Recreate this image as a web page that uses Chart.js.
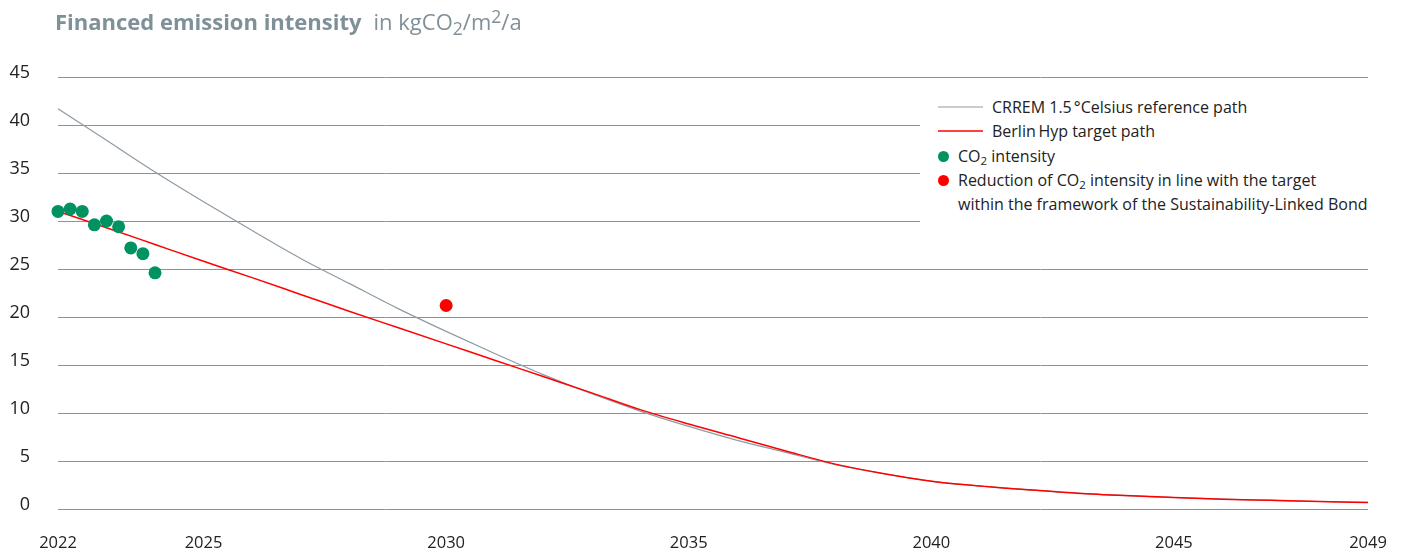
<!DOCTYPE html>
<html>
<head>
<meta charset="utf-8">
<script src="https://cdn.jsdelivr.net/npm/chart.js@4.4.1/dist/chart.umd.min.js"></script>
<style>
  html,body{margin:0;padding:0;background:#fff;}
  body{font-family:"Open Sans","Noto Sans",sans-serif;}
  #wrap{position:relative;width:1402px;height:550px;overflow:hidden;}
  #c{position:absolute;left:0;top:0;}
  #title{position:absolute;left:55px;top:7px;font-size:22px;line-height:28px;color:#7f9099;white-space:nowrap;}
  #title b{font-weight:700;margin-right:12px;}
  #title sub,#title sup{font-size:0.8em;}
  sub,sup{font-size:0.72em;line-height:0;}
  sub{vertical-align:-0.3em;}
  sup{vertical-align:0.4em;}
  #legend{position:absolute;left:920px;top:92px;width:482px;height:140px;background:#fff;}
  .lt{position:absolute;font-size:16px;font-weight:500;line-height:24px;color:#222;white-space:nowrap;}
  .ls{position:absolute;display:block;}
  .ld{position:absolute;border-radius:50%;}
</style>
</head>
<body>
<div id="wrap">
  <canvas id="c" width="1402" height="550"></canvas>
  <div id="title"></div>
  <div id="legend"></div>
</div>
<script>
// ---- data ----
const titleBold = 'Financed emission intensity';
const titleUnit = 'in kgCO<sub>2</sub>/m<sup>2</sup>/a';

const years = [2022,2023,2024,2025,2026,2027,2028,2029,2030,2031,2032,2033,2034,2035,
               2036,2037,2038,2039,2040,2041,2042,2043,2044,2045,2046,2047,2048,2049];
const crremPath = [41.7,38.4,35.1,32.0,29.0,26.1,23.5,20.9,18.5,16.2,14.0,12.0,10.2,8.6,
                   7.15,5.9,4.65,3.7,2.9,2.4,2.0,1.65,1.4,1.2,1.02,0.9,0.78,0.68];
const targetPath = [31.0,29.3,27.55,25.8,24.1,22.35,20.6,18.9,17.2,15.5,13.8,12.1,10.35,8.85,
                    7.45,6.05,4.7,3.7,2.9,2.4,2.0,1.65,1.4,1.2,1.02,0.9,0.78,0.68];
const co2Periods = [2022,2022.25,2022.5,2022.75,2023,2023.25,2023.5,2023.75,2024];
const co2Values  = [31.0,31.25,31.0,29.6,30.0,29.4,27.2,26.6,24.6];
const slbPeriods = [2030];
const slbValues  = [21.2];
const xTickValues = [2022,2025,2030,2035,2040,2045,2049];
const yMin = 0, yMax = 45, yStep = 5;

const legendLabels = [
  'CRREM 1.5\u202f°Celsius reference path',
  'Berlin\u2009Hyp target path',
  'CO<sub>2</sub> intensity',
  'Reduction of CO<sub>2</sub> intensity in line with the target<br>within the framework of the Sustainability-Linked Bond'
];

// ---- colours ----
const GREY = '#8c9ba5', RED = '#ff0000', GREEN = '#009260', SLB = '#ff0000', GRID = '#8794a0';

// ---- title ----
document.getElementById('title').innerHTML = '<b>' + titleBold + '</b>' + titleUnit;

// ---- legend ----
const lg = document.getElementById('legend');
const legendDefs = [
  {kind:'line', color:GREY, y:15},
  {kind:'line', color:RED,  y:39},
  {kind:'dot',  color:GREEN,y:64},
  {kind:'dot',  color:SLB,  y:88}
];
legendDefs.forEach((d,i)=>{
  if(d.kind==='line'){
    const ns='http://www.w3.org/2000/svg';
    const svg=document.createElementNS(ns,'svg');
    svg.setAttribute('class','ls'); svg.setAttribute('width','45'); svg.setAttribute('height','4');
    svg.style.left='18px'; svg.style.top=(d.y-2)+'px';
    const ln=document.createElementNS(ns,'line');
    ln.setAttribute('x1','0'); ln.setAttribute('x2','45'); ln.setAttribute('y1','2'); ln.setAttribute('y2','2');
    ln.setAttribute('stroke', d.color); ln.setAttribute('stroke-width', d.color===RED ? '1.5' : '1.2');
    svg.appendChild(ln); lg.appendChild(svg);
    const t=document.createElement('div'); t.className='lt';
    t.style.left='72px'; t.style.top=(d.y-12)+'px'; t.innerHTML=legendLabels[i]; lg.appendChild(t);
  } else {
    const s=document.createElement('div'); s.className='ld';
    s.style.left='17.5px'; s.style.top=(d.y-5.5)+'px'; s.style.width='11px'; s.style.height='11px';
    s.style.background=d.color; lg.appendChild(s);
    const t=document.createElement('div'); t.className='lt';
    t.style.left='38px'; t.style.top=(d.y-12)+'px'; t.innerHTML=legendLabels[i]; lg.appendChild(t);
  }
});

// ---- chart ----
const toXY = (xs, ys) => xs.map((x,i)=>({x:x, y:ys[i]}));

new Chart(document.getElementById('c'), {
  type: 'line',
  data: {
    datasets: [
      {label:'CO2 intensity', data: toXY(co2Periods, co2Values), showLine:false,
       pointRadius:6.5, pointHoverRadius:6.5, pointBackgroundColor:GREEN, pointBorderWidth:0,
       order:0, clip:false},
      {label:'SLB', data: toXY(slbPeriods, slbValues), showLine:false,
       pointRadius:6.5, pointHoverRadius:6.5, pointBackgroundColor:SLB, pointBorderWidth:0,
       order:1, clip:false},
      {label:'Berlin Hyp target path', data: toXY(years, targetPath), borderColor:RED, borderWidth:1.5,
       pointRadius:0, cubicInterpolationMode:'monotone', order:2},
      {label:'CRREM', data: toXY(years, crremPath), borderColor:GREY, borderWidth:1.2,
       pointRadius:0, cubicInterpolationMode:'monotone', order:3}
    ]
  },
  options: {
    responsive:false, animation:false, devicePixelRatio:1,
    layout:{padding:{left:0, right:34, top:77, bottom:0}},
    plugins:{legend:{display:false}, tooltip:{enabled:false}},
    events:[],
    scales:{
      x:{
        type:'linear', min:2022, max:2049,
        grid:{display:false, drawTicks:false}, border:{display:false},
        afterBuildTicks:(s)=>{ s.ticks = xTickValues.map(v=>({value:v})); },
        afterFit:(s)=>{ s.height = 41; s.paddingLeft = 0; s.paddingRight = 0; },
        ticks:{padding:24, autoSkip:false, maxRotation:0, color:'#222',
               font:{family:'"Open Sans","Noto Sans",sans-serif', size:16.5, weight:'500'},
               callback:(v)=>String(v)}
      },
      y:{
        min:yMin, max:yMax,
        grid:{color:GRID, lineWidth:1, drawTicks:false}, border:{display:false},
        afterFit:(s)=>{ s.width = 58; s.paddingTop = 0; s.paddingBottom = 0; },
        ticks:{stepSize:yStep, padding:28, labelOffset:-4, color:'#222',
               font:{family:'"Open Sans","Noto Sans",sans-serif', size:18, weight:'500'}}
      }
    }
  }
});
</script>
</body>
</html>
